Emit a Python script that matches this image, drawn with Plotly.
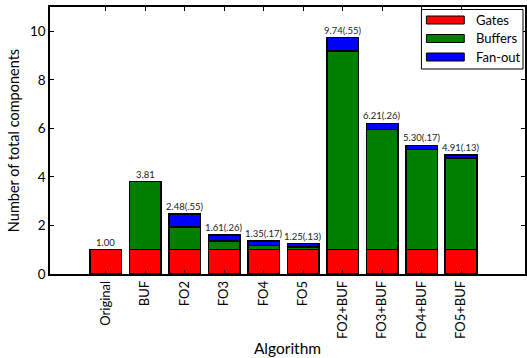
import plotly.graph_objects as go

categories = ["Original", "BUF", "FO2", "FO3", "FO4", "FO5",
              "FO2+BUF", "FO3+BUF", "FO4+BUF", "FO5+BUF"]
gates = [1.00, 1.00, 1.00, 1.00, 1.00, 1.00, 1.00, 1.00, 1.00, 1.00]
buffers = [0.00, 2.81, 0.93, 0.35, 0.18, 0.12, 8.19, 4.95, 4.13, 3.78]
fanout = [0.00, 0.00, 0.55, 0.26, 0.17, 0.13, 0.55, 0.26, 0.17, 0.13]
bar_labels = ["1.00", "3.81", "2.48(.55)", "1.61(.26)", "1.35(.17)", "1.25(.13)",
              "9.74(.55)", "6.21(.26)", "5.30(.17)", "4.91(.13)"]
series_names = ["Gates", "Buffers", "Fan-out"]
series_colors = ["#ff0000", "#008000", "#0000ff"]

FONT = "Lato"
W, H = 527, 358
ML, MR, MT, MB = 50, 0, 7, 84

x = list(range(len(categories)))
fig = go.Figure()
for name, vals, col in zip(series_names, [gates, buffers, fanout], series_colors):
    fig.add_trace(go.Bar(
        x=x, y=vals, name=name, marker_color=col,
        marker_line_color="black", marker_line_width=1.5,
        width=0.8, showlegend=False,
    ))

totals = [g + b + f for g, b, f in zip(gates, buffers, fanout)]
annotations = []
for xi, t, lab in zip(x, totals, bar_labels):
    annotations.append(dict(x=xi, y=t, text=lab, showarrow=False,
                            yanchor="bottom", yshift=0,
                            font=dict(family=FONT, size=9.5, color="#222")))

# custom legend (paper coords relative to plot area)
pw = W - ML - MR
ph = H - MT - MB
def px2x(p):
    return (p - ML) / pw
def py2y(p):
    return (H - MB - p) / ph

shapes = [dict(type="rect", xref="paper", yref="paper",
               x0=px2x(423), x1=px2x(525), y0=py2y(69), y1=py2y(9.5),
               line=dict(color="black", width=1), fillcolor="white", layer="above")]
for i, (name, col) in enumerate(zip(series_names, series_colors)):
    cy = 20 + i * 18.5
    shapes.append(dict(type="rect", xref="paper", yref="paper",
                       x0=px2x(428), x1=px2x(466), y0=py2y(cy + 4), y1=py2y(cy - 4),
                       line=dict(color="black", width=1), fillcolor=col, layer="above"))
    annotations.append(dict(xref="paper", yref="paper", x=px2x(476), y=py2y(cy),
                            text=name, showarrow=False, xanchor="left", yanchor="middle",
                            font=dict(family=FONT, size=13, color="black")))

fig.update_layout(
    barmode="stack", width=W, height=H,
    margin=dict(l=ML, r=MR, t=MT, b=MB, pad=0),
    paper_bgcolor="white", plot_bgcolor="white",
    font=dict(family=FONT, color="black"),
    annotations=annotations, shapes=shapes,
    xaxis=dict(range=[-1.41, 10.62], tickmode="array", tickvals=x, ticktext=categories,
               tickangle=-90, ticks="inside", ticklen=4, tickcolor="black",
               showline=True, linecolor="black", linewidth=1.5, mirror="ticks",
               showgrid=False, zeroline=False, tickfont=dict(size=13),
               title=dict(text="Algorithm", font=dict(size=15.5), standoff=5)),
    yaxis=dict(range=[0, 11], tickvals=[0, 2, 4, 6, 8, 10], ticks="inside", ticklen=4,
               tickcolor="black", showline=True, linecolor="black", linewidth=1.5,
               mirror="ticks", showgrid=False, zeroline=False, tickfont=dict(size=13.5),
               title=dict(text="Number of total components", font=dict(size=14.5), standoff=7)),
)

fig.write_html("out.html")
